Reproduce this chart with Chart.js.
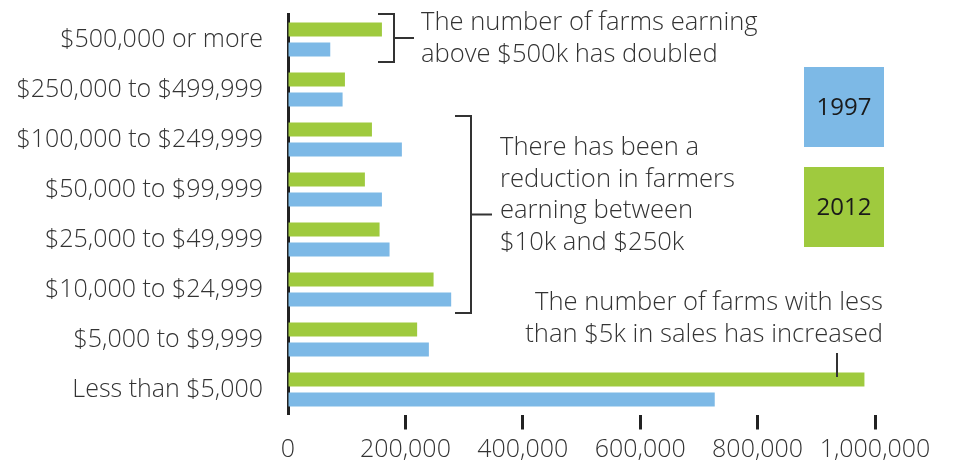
<!DOCTYPE html>
<html>
<head>
<meta charset="utf-8">
<script src="https://cdn.jsdelivr.net/npm/chart.js@4"></script>
<style>
  html, body { margin: 0; padding: 0; background: #fff; }
  #wrap { width: 956px; height: 460px; }
</style>
</head>
<body>
<div id="wrap"><canvas id="farms"></canvas></div>
<script>
const categories = [
  '$500,000 or more',
  '$250,000 to $499,999',
  '$100,000 to $249,999',
  '$50,000 to $99,999',
  '$25,000 to $49,999',
  '$10,000 to $24,999',
  '$5,000 to $9,999',
  'Less than $5,000'
];
const farms2012 = [160000, 97000, 143000, 131000, 156000, 248000, 220000, 982000];
const farms1997 = [72000, 93000, 194000, 160000, 173000, 278000, 240000, 727000];
const xTicks = [0, 200000, 400000, 600000, 800000, 1000000];

const GREEN = '#9fca3e';
const BLUE = '#7db9e6';
const INK = '#333333';
const FONT = '"Open Sans", sans-serif';

// brackets, notes and the two colour boxes
const notes = {
  id: 'notes',
  afterDraw(chart) {
    const { ctx, scales: { y } } = chart;
    ctx.save();
    ctx.strokeStyle = '#333';
    ctx.lineWidth = 2;
    ctx.fillStyle = INK;
    ctx.font = '300 25.6px ' + FONT;
    ctx.textBaseline = 'middle';

    const bracket = (x0, x1, top, bottom, stub) => {
      ctx.beginPath();
      ctx.moveTo(x0, top); ctx.lineTo(x1, top); ctx.lineTo(x1, bottom); ctx.lineTo(x0, bottom);
      const mid = (top + bottom) / 2;
      ctx.moveTo(x1, mid); ctx.lineTo(x1 + stub, mid);
      ctx.stroke();
    };

    const step = y.getPixelForValue(1) - y.getPixelForValue(0);

    // top group
    const g0 = y.getPixelForValue(0);
    bracket(378, 394, g0 - step * 0.51, g0 + step * 0.45, 20);
    ctx.textAlign = 'left';
    ctx.fillText('The number of farms earning', 421, 23);
    ctx.fillText('above $500k has doubled', 421, 55);

    // middle groups
    const g2 = y.getPixelForValue(2), g5 = y.getPixelForValue(5);
    bracket(455, 471, g2 - step * 0.47, g5 + step * 0.47, 21);
    ['There has been a', 'reduction in farmers', 'earning between', '$10k and $250k']
      .forEach((t, i) => ctx.fillText(t, 500, 148 + i * 31.5));

    // bottom group
    ctx.textAlign = 'right';
    ctx.fillText('The number of farms with less', 883, 303);
    ctx.fillText('than $5k in sales has increased', 883, 335);
    ctx.beginPath();
    ctx.moveTo(837, 353); ctx.lineTo(837, 377);
    ctx.stroke();

    // colour boxes
    ctx.textAlign = 'center';
    ctx.font = '24px ' + FONT;
    [[chart.data.datasets[1], 67], [chart.data.datasets[0], 167]].forEach(([ds, top]) => {
      ctx.fillStyle = ds.backgroundColor;
      ctx.fillRect(804, top, 80, 80);
      ctx.fillStyle = '#1a1a1a';
      ctx.fillText(ds.label, 844, top + 41);
    });
    ctx.restore();
  }
};

new Chart(document.getElementById('farms'), {
  type: 'bar',
  data: {
    labels: categories,
    datasets: [
      { label: '2012', data: farms2012, backgroundColor: GREEN },
      { label: '1997', data: farms1997, backgroundColor: BLUE }
    ]
  },
  options: {
    indexAxis: 'y',
    responsive: true,
    maintainAspectRatio: false,
    animation: false,
    categoryPercentage: 0.8,
    barPercentage: 0.7,
    layout: { padding: { top: 14.5, right: 81, left: 0, bottom: 0 } },
    plugins: {
      legend: { display: false },
      tooltip: { enabled: false }
    },
    scales: {
      x: {
        min: 0,
        max: 1000000,
        afterBuildTicks(s) { s.ticks = xTicks.map(v => ({ value: v })); },
        afterFit(s) { s.height = 45.5; },
        border: { display: false },
        grid: {
          drawOnChartArea: false,
          tickLength: 15,
          tickWidth: 3,
          tickColor: c => (c.tick && c.tick.value === 0 ? 'rgba(0,0,0,0)' : '#222')
        },
        ticks: {
          padding: 5,
          color: INK,
          font: { family: FONT, size: 25, weight: 300 },
          callback: v => v.toLocaleString('en-US')
        }
      },
      y: {
        afterFit(s) {
          s.width = 288;
          s.paddingTop = 0;
          s.paddingBottom = 0;
        },
        border: { display: true, color: '#222', width: 3 },
        grid: { display: false },
        ticks: {
          padding: 17,
          color: INK,
          font: { family: FONT, size: 25, weight: 300 }
        }
      }
    }
  },
  plugins: [notes]
});
</script>
</body>
</html>
